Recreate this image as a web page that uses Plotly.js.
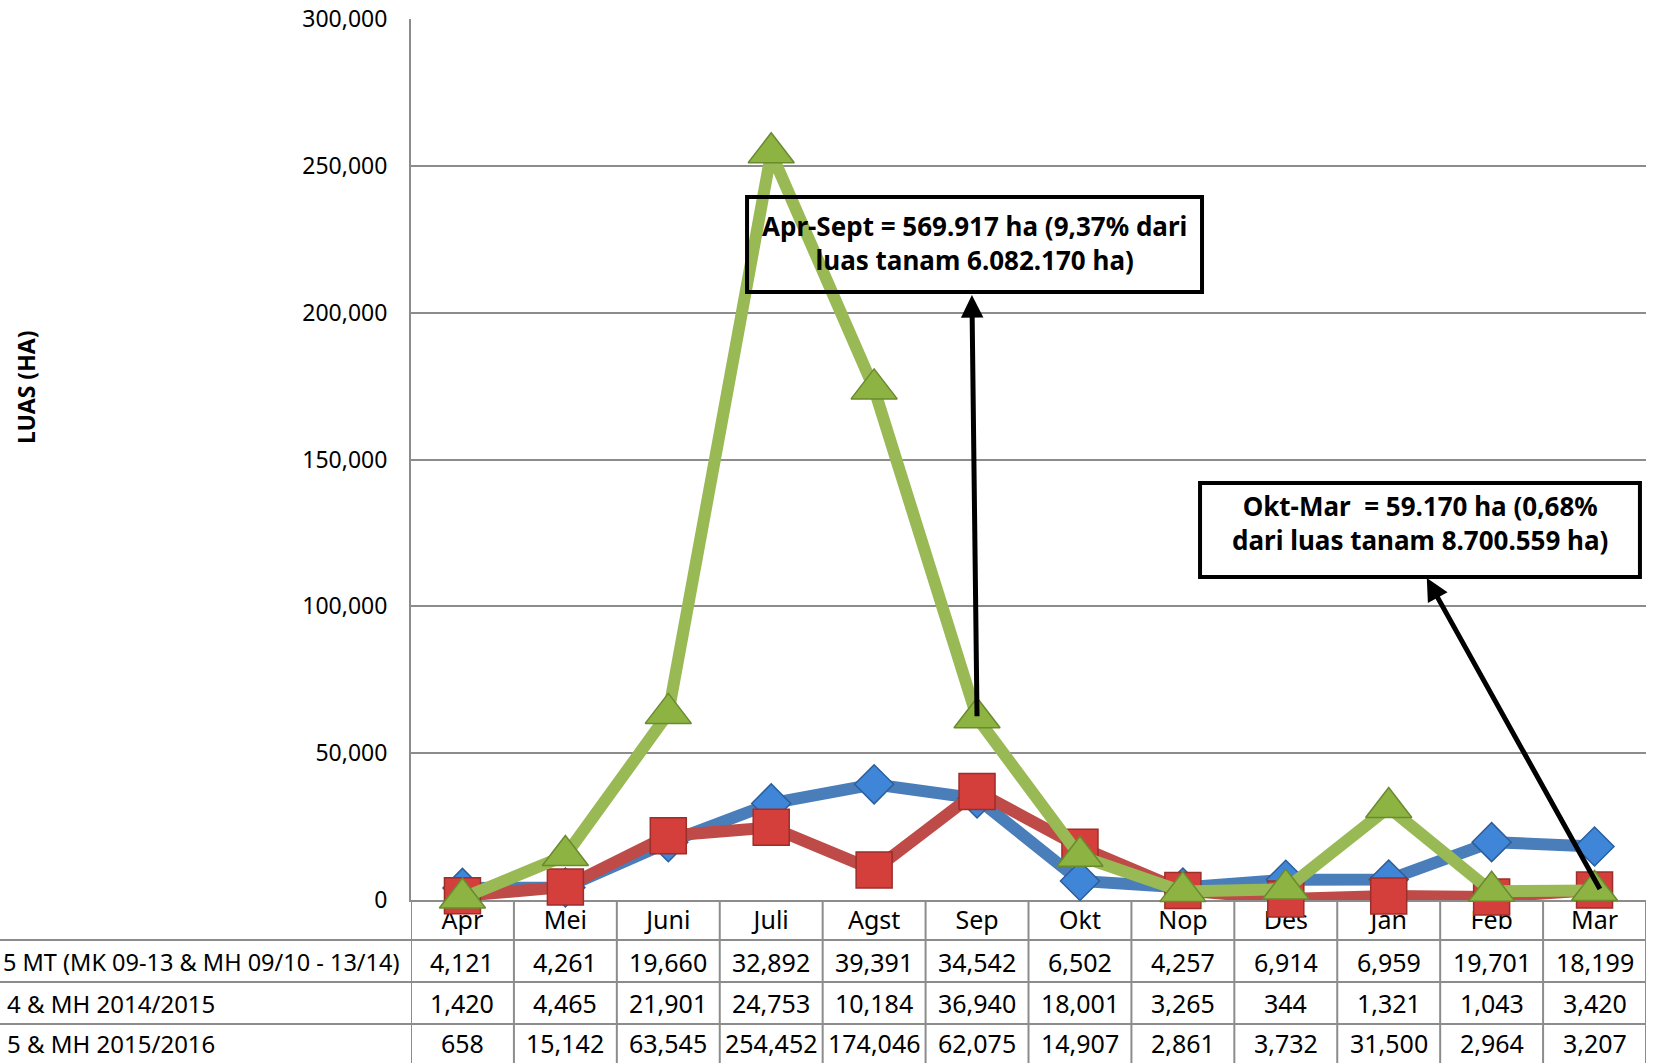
<!DOCTYPE html>
<html>
<head>
<meta charset="utf-8">
<script src="https://cdn.plot.ly/plotly-3.0.1.min.js"></script>
<style>html,body{margin:0;padding:0;background:#fff;}#chart{width:1653px;height:1063px;}
#chart text{font-stretch:condensed !important;}</style>
</head>
<body>
<div id="chart"></div>
<script>
// ---- data ----
const months = ["Apr","Mei","Juni","Juli","Agst","Sep","Okt","Nop","Des","Jan","Feb","Mar"];
const seriesNames = ["5 MT (MK 09-13 & MH 09/10 - 13/14)", "4 & MH 2014/2015", "5 & MH 2015/2016"];
const avg5MT   = [4121, 4261, 19660, 32892, 39391, 34542, 6502, 4257, 6914, 6959, 19701, 18199];
const mk2014   = [1420, 4465, 21901, 24753, 10184, 36940, 18001, 3265, 344, 1321, 1043, 3420];
const mk2015   = [658, 15142, 63545, 254452, 174046, 62075, 14907, 2861, 3732, 31500, 2964, 3207];
const yTicks   = [0, 50000, 100000, 150000, 200000, 250000, 300000];
const note1 = "Apr-Sept = 569.917 ha (9,37% dari<br>luas tanam 6.082.170 ha)";
const note2 = "Okt-Mar &nbsp;= 59.170 ha (0,68%<br>dari luas tanam 8.700.559 ha)";
const yTitle = "LUAS (HA)";

// ---- styling ----
const FONT = "'Noto Sans Condensed', 'Noto Sans', 'DejaVu Sans', sans-serif";
const series = [avg5MT, mk2014, mk2015];
const lineColors = ["#4A7EBB", "#BE4B48", "#98B954"];
const markerFill = ["#3F86D8", "#D53F3B", "#8DB443"];
const markerEdge = ["#2C5E9C", "#9C2E2B", "#6A8A2E"];
const symbols = ["diamond", "square", "triangle-up"];
const sizes = [30, 36, 40];

const traces = series.map((vals, i) => ({
  type: "scatter", mode: "lines+markers",
  x: months, y: vals, name: seriesNames[i],
  cliponaxis: false,
  line: {color: lineColors[i], width: 12},
  marker: {symbol: symbols[i], size: sizes[i], color: markerFill[i], line: {color: markerEdge[i], width: 1.5}},
  hoverinfo: "skip"
}));

// table geometry (paper coords)
const leftPaper = -411 / 1235;
const rowLines = [940, 982, 1024].map(py => (900 - py) / 881);
const bottomPaper = (900 - 1063) / 881;
const rowCenters = [962, 1003, 1043].map(py => (900 - py) / 881);

const shapes = [];
rowLines.forEach(yv => shapes.push({type: "line", xref: "paper", yref: "paper", x0: leftPaper, x1: 1, y0: yv, y1: yv, line: {color: "#8c8c8c", width: 2}}));
for (let i = 0; i <= months.length; i++) {
  shapes.push({type: "line", xref: "x", yref: "paper", x0: i - 0.5, x1: i - 0.5, y0: 0, y1: bottomPaper, line: {color: "#8c8c8c", width: 2}});
}
shapes.push({type: "rect", xref: "paper", yref: "paper", x0: 0.2721, x1: 0.6405, y0: 0.6901, y1: 0.7980, line: {color: "#000", width: 4}, layer: "above"});
shapes.push({type: "rect", xref: "paper", yref: "paper", x0: 0.6389, x1: 0.9951, y0: 0.3666, y1: 0.4733, line: {color: "#000", width: 4}, layer: "above"});

const annotations = [];
series.forEach((vals, r) => {
  vals.forEach((v, c) => {
    annotations.push({xref: "x", yref: "paper", x: months[c], y: rowCenters[r], text: v.toLocaleString("en-US"),
      showarrow: false, xanchor: "center", yanchor: "middle", font: {family: FONT, size: 25, color: "#000"}});
  });
  annotations.push({xref: "paper", yref: "paper", x: r === 0 ? leftPaper + 0.0008 : leftPaper + 0.004, y: rowCenters[r], text: seriesNames[r],
    showarrow: false, xanchor: "left", yanchor: "middle", font: {family: FONT, size: r === 0 ? 23.5 : 24, color: "#000"}});
});
annotations.push({xref: "paper", yref: "paper", x: -0.3117, y: 0.5812, text: "<b>" + yTitle + "</b>", textangle: -90,
  showarrow: false, xanchor: "center", yanchor: "middle", font: {family: FONT, size: 23, color: "#000"}});
annotations.push({xref: "paper", yref: "paper", x: 0.4563, y: 0.7463, text: "<b>" + note1 + "</b>", showarrow: false,
  xanchor: "center", yanchor: "middle", align: "center", font: {family: FONT, size: 26, color: "#000"}});
annotations.push({xref: "paper", yref: "paper", x: 0.817, y: 0.4274, text: "<b>" + note2 + "</b>", showarrow: false,
  xanchor: "center", yanchor: "middle", align: "center", font: {family: FONT, size: 26, color: "#000"}});
annotations.push({xref: "x", yref: "y", x: 4.95, y: 206000, axref: "x", ayref: "y", ax: 5, ay: mk2015[5],
  text: "", showarrow: true, arrowhead: 2, arrowsize: 0.9, arrowwidth: 5, arrowcolor: "#000", standoff: 0, startstandoff: 0});
annotations.push({xref: "x", yref: "y", x: 9.37, y: 109650, axref: "x", ayref: "y", ax: 11.06, ay: mk2015[11],
  text: "", showarrow: true, arrowhead: 2, arrowsize: 0.9, arrowwidth: 5, arrowcolor: "#000", standoff: 0, startstandoff: 0});

const layout = {
  width: 1653, height: 1063,
  margin: {l: 411, r: 7, t: 19, b: 163, pad: 0},
  paper_bgcolor: "#fff", plot_bgcolor: "#fff",
  showlegend: false,
  font: {family: FONT, color: "#000"},
  xaxis: {
    type: "category", range: [-0.5, 11.5], showgrid: false, zeroline: false,
    showline: true, linecolor: "#8c8c8c", linewidth: 2, ticks: "", layer: "below traces",
    tickfont: {family: FONT, size: 25, color: "#000"}, ticklabelstandoff: -3, fixedrange: true
  },
  yaxis: {
    range: [0, 300000], tickvals: yTicks, tickformat: ",d", showgrid: true, gridcolor: "#8c8c8c", gridwidth: 2,
    zeroline: false, showline: true, linecolor: "#8c8c8c", linewidth: 2, ticks: "", layer: "below traces",
    tickfont: {family: FONT, size: 23, color: "#000"}, ticklabelstandoff: 17, fixedrange: true
  },
  shapes: shapes,
  annotations: annotations
};

Plotly.newPlot("chart", traces, layout, {staticPlot: true, displayModeBar: false});
</script>
</body>
</html>
